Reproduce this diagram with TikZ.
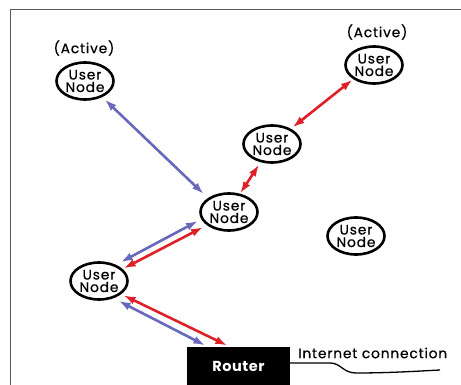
\documentclass[tikz,border=0pt]{standalone}
\usepackage{fontspec}
\setmainfont{Poppins}
\newfontfamily\gothic{Poppins}[FakeBold=0.5,LetterSpace=6]
\newfontfamily\gothicbold{Poppins Bold}[LetterSpace=4]
\usetikzlibrary{arrows.meta,shapes.geometric}
\definecolor{linkred}{RGB}{222,32,40}
\definecolor{linkblue}{RGB}{104,104,188}
\definecolor{framegray}{RGB}{90,90,90}
\begin{document}
\begin{tikzpicture}[x=1pt,y=-1pt,
  usernode/.style={ellipse,draw=black,line width=2.6pt,minimum width=57pt,minimum height=37pt,
    inner sep=0pt,outer sep=0pt,align=center,font=\gothic\fontsize{13.8}{12.5}\selectfont},
  label/.style={font=\gothic\fontsize{13.8}{13}\selectfont,inner sep=0pt},
  link/.style={line width=2.6pt,{Latex[length=12pt,width=8pt]}-{Latex[length=12pt,width=8pt]}},
  redlink/.style={link,draw=linkred,fill=linkred},
  bluelink/.style={link,draw=linkblue,fill=linkblue},
  router/.style={fill=black,draw=black,minimum width=102pt,minimum height=38pt,inner sep=0pt,
    text=white,font=\gothicbold\fontsize{14.5}{14}\selectfont}]
\useasboundingbox (0,0) rectangle (461,385);
\fill[white] (0,0) rectangle (461,385);
% frame
\draw[framegray,line width=1pt] (10,385) -- (10,10) -- (461,10);
% nodes
\node[usernode] (A) at (85,81) {User\\Node};
\node[usernode] (B) at (374,65) {User\\Node};
\node[usernode] (C) at (272,144) {User\\Node};
\node[usernode] (D) at (229,212) {User\\Node};
\node[usernode] (E) at (356,236) {User\\Node};
\node[usernode] (F) at (99,281) {User\\Node};
\node[label] (la) at (84,48) {(Active)};
\node[label] (lb) at (377,32) {(Active)};
\node[router] (R) at (238.5,366) {Router};
\node[label,anchor=west] (inettext) at (298,353) {Internet connection};
% links
\draw[bluelink,shorten <=4.8pt,shorten >=7pt] (A.-43.5) -- (D.147.8);
\draw[redlink,shorten <=2pt,shorten >=3.5pt] (B.214.3) -- (C.39);
\draw[redlink,shorten <=4pt,shorten >=1.5pt] (C.238.2) -- (D.59.9);
\draw[bluelink,shorten <=5pt,shorten >=7pt] (D.194) -- (F.45);
\draw[redlink,shorten <=5.6pt,shorten >=2.5pt] (D.211.6) -- (F.27.5);
\draw[redlink,shorten <=4pt,shorten >=3pt] (F.-31) -- ([xshift=-8.5pt]R.north);
\draw[bluelink,shorten <=7.5pt,shorten >=3pt] (F.-52) -- ([xshift=-30.5pt]R.north);
% internet cable
\coordinate (inet) at (440,370);
\draw[black,line width=1.3pt] ([yshift=3pt]R.east) -- (330,363)
  .. controls (341,363) and (343,373) .. (356,373)
  .. controls (390,373) and (420,371) .. (inet);
\end{tikzpicture}
\end{document}
